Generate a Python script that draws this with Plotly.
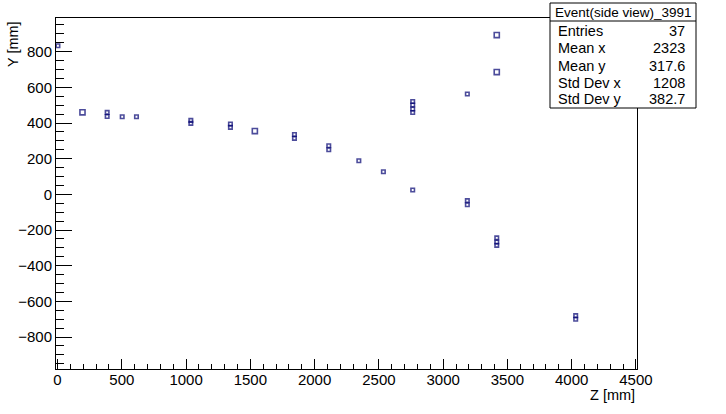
import plotly.graph_objects as go

# ---- data ----
z_mm = [3, 194, 386, 386, 503, 614, 1037, 1037, 1345, 1345, 1535, 1843, 1843,
        2110, 2110, 2344, 2535, 2763, 2763, 2763, 2763, 2763, 3188, 3188, 3188,
        3417, 3417, 3417, 3417, 3417, 4031, 4031]
y_mm = [833, 460, 460, 437, 435, 435, 415, 398, 395, 376, 355, 336, 314,
        273, 250, 189, 127, 521, 501, 479, 459, 25, 563, -35, -58,
        893, 686, -244, -267, -286, -680, -700]
counts = [1, 2, 1, 1, 1, 1, 1, 1, 1, 1, 2, 1, 1,
          1, 1, 1, 1, 1, 1, 1, 1, 1, 1, 1, 1,
          2, 2, 1, 1, 1, 1, 1]

hist_title = "Event(side view)_3991"
stat_labels = ["Entries", "Mean x", "Mean y", "Std Dev x", "Std Dev y"]
stat_values = ["37", "2323", "317.6", "1208", "382.7"]

x_ticks = [0, 500, 1000, 1500, 2000, 2500, 3000, 3500, 4000, 4500]
y_ticks = [-800, -600, -400, -200, 0, 200, 400, 600, 800]

# ---- layout geometry ----
W, H = 726, 414
ML, MR, MT, MB = 56, 89, 18, 45
PW, PH = W - ML - MR, H - MT - MB


def px(x):
    return (x - ML) / PW


def py(y):
    return (H - MB - y) / PH


FONT = "Liberation Sans, Arial, Helvetica, sans-serif"
NAVY = "#000070"

sizes = [3.5 + 1.6 * (c - 1) for c in counts]

fig = go.Figure()
fig.add_trace(go.Scatter(
    x=z_mm, y=y_mm, mode="markers",
    marker=dict(symbol="square-open", size=sizes, color=NAVY,
                line=dict(color=NAVY, width=1.6)),
    showlegend=False, cliponaxis=False, hoverinfo="skip",
))

axis_common = dict(
    showgrid=False, zeroline=False, showline=True, mirror=True,
    linecolor="black", linewidth=1, ticks="inside", tickcolor="black",
    tickwidth=1, tickfont=dict(family=FONT, size=15, color="black"),
    automargin=False,
)

fig.update_xaxes(
    range=[-12, 4508], tickvals=x_ticks, ticklen=10,
    minor=dict(dtick=100, tick0=0, ticks="inside", ticklen=5,
               tickcolor="black", tickwidth=1),
    ticklabelstandoff=-3,
    **axis_common,
)
fig.update_yaxes(
    range=[-979, 989], tickvals=y_ticks, ticklen=16,
    minor=dict(dtick=50, tick0=0, ticks="inside", ticklen=8,
               tickcolor="black", tickwidth=1),
    ticklabelstandoff=0,
    **axis_common,
)

shapes = [
    dict(type="rect", xref="paper", yref="paper",
         x0=px(550), x1=px(696), y0=py(108), y1=py(3),
         line=dict(color="black", width=1), fillcolor="white", layer="above"),
    dict(type="line", xref="paper", yref="paper",
         x0=px(550), x1=px(696), y0=py(21), y1=py(21),
         line=dict(color="black", width=1), layer="above"),
]

annotations = [
    dict(text=hist_title, xref="paper", yref="paper", x=px(623), y=py(12),
         xanchor="center", yanchor="middle", showarrow=False,
         font=dict(family=FONT, size=13.5, color="black")),
    dict(text="Z [mm]", xref="paper", yref="paper", x=px(637), y=py(395),
         xanchor="right", yanchor="middle", showarrow=False,
         font=dict(family=FONT, size=14.5, color="black")),
    dict(text="Y [mm]", xref="paper", yref="paper", x=px(13), y=py(19),
         xanchor="center", yanchor="top", textangle=-90, showarrow=False,
         font=dict(family=FONT, size=14.5, color="black")),
]
row_y = [31, 48.5, 65.5, 82.5, 99]
for lab, val, ry in zip(stat_labels, stat_values, row_y):
    annotations.append(dict(text=lab, xref="paper", yref="paper", x=px(556),
                            y=py(ry), xanchor="left", yanchor="middle",
                            showarrow=False,
                            font=dict(family=FONT, size=14.5, color="black")))
    annotations.append(dict(text=val, xref="paper", yref="paper", x=px(687),
                            y=py(ry), xanchor="right", yanchor="middle",
                            showarrow=False,
                            font=dict(family=FONT, size=14.5, color="black")))

fig.update_layout(
    width=W, height=H,
    margin=dict(l=ML, r=MR, t=MT, b=MB, pad=0, autoexpand=False),
    paper_bgcolor="white", plot_bgcolor="white",
    shapes=shapes, annotations=annotations,
    font=dict(family=FONT, color="black"),
    hovermode=False,
)

fig.write_html("out.html",
               config={"displayModeBar": False, "staticPlot": True},
               post_script="document.body.style.margin='0';")
